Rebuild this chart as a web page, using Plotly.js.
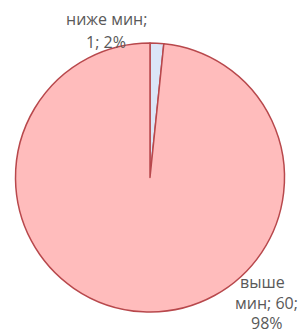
<!DOCTYPE html>
<html><head><meta charset="utf-8">
<script src="https://cdn.plot.ly/plotly-3.0.1.min.js"></script>
<style>html,body{margin:0;padding:0;background:#fff;}</style>
</head><body>
<div id="chart" style="width:298px;height:335px;"></div>
<script>
const categories = ['ниже мин', 'выше мин'];
const values = [1, 60];
const percents = ['2%', '98%'];
const colors = ['#dbe5f7', '#ffbcbc'];

const labelLines = [
  [categories[0] + ';', values[0] + '; ' + percents[0]],
  ['выше', 'мин; ' + values[1] + ';', percents[1]]
];

const data = [{
  type: 'pie',
  labels: categories,
  values: values,
  sort: false,
  direction: 'clockwise',
  rotation: 0,
  textinfo: 'none',
  hoverinfo: 'none',
  marker: {colors: colors, line: {color: '#b8484c', width: 1.5}},
  domain: {x: [15/298, 285/298], y: [23/335, 292/335]},
  showlegend: false
}];

const font = {family: 'Open Sans, Liberation Sans, sans-serif', size: 16, color: '#595959'};
const annotations = [
  {x: 106.5/298, y: 1 - 19/335, text: labelLines[0][0]},
  {x: 106/298, y: 1 - 42/335, text: labelLines[0][1]},
  {x: 262/298, y: 1 - 282/335, text: labelLines[1][0]},
  {x: 266/298, y: 1 - 303/335, text: labelLines[1][1]},
  {x: 267/298, y: 1 - 323/335, text: labelLines[1][2]}
].map(a => Object.assign(a, {xref: 'paper', yref: 'paper', showarrow: false, xanchor: 'center', yanchor: 'middle', font: font}));

Plotly.newPlot('chart', data, {
  width: 298, height: 335,
  margin: {l: 0, r: 0, t: 0, b: 0},
  paper_bgcolor: '#ffffff',
  annotations: annotations
}, {staticPlot: true});
</script>
</body></html>
